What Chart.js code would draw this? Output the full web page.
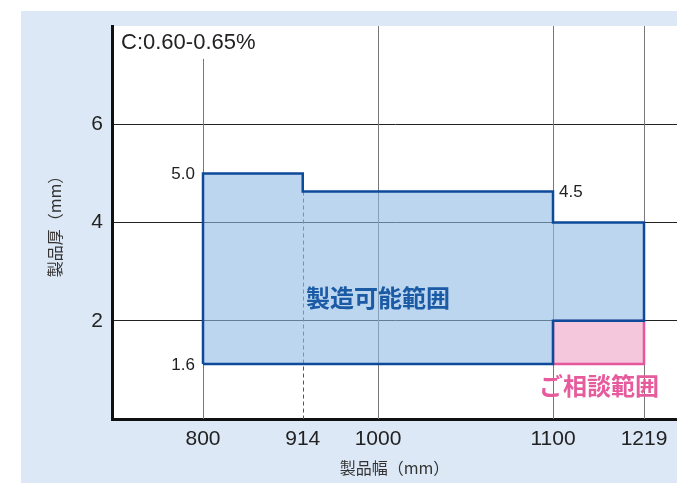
<!DOCTYPE html>
<html lang="ja">
<head>
<meta charset="UTF-8">
<title>製造可能範囲 C:0.60-0.65%</title>
<script src="https://cdn.jsdelivr.net/npm/chart.js"></script>
<style>
  body { margin: 0; background: #fff; }
  #wrap { position: relative; width: 677px; height: 483px; overflow: hidden; }
  #bg { position: absolute; left: 21px; top: 11px; right: 0; bottom: 0; background: #dde8f6; }
  canvas { position: absolute; left: 0; top: 0; }
</style>
</head>
<body>
<div id="wrap">
  <div id="bg"></div>
  <canvas id="chart" width="677" height="483"></canvas>
</div>

<script>
  // 目盛
  const xTicks = [800, 914, 1000, 1100, 1219];
  const yTicks = [2, 4, 6];

  // 製造可能範囲 (外形を一周)
  const makeX = [800, 800, 914, 914, 1100, 1100, 1219, 1219, 1100, 1100, 800];
  const makeY = [1.12, 5.0, 5.0, 4.63, 4.63, 4.0, 4.0, 2.0, 2.0, 1.12, 1.12];

  // ご相談範囲
  const askX = [1100, 1219, 1219, 1100, 1100];
  const askY = [2.0, 2.0, 1.12, 1.12, 2.0];

  // 数値ラベル
  const valText = ["5.0", "1.6", "4.5"];
  const valX = [800, 800, 1100];
  const valY = [5.0, 1.12, 4.63];

  // 範囲名
  const areaText = ["製造可能範囲", "ご相談範囲"];
  const areaX = [1000, 1160];
  const areaY = [2.47, 0.67];

  // 縦グリッドの上端 (y の値)
  const gridTop = [7.33, 4.63, 8, 8, 8];

  // 横軸は区間ごとに縮尺が違う (原図どおり)
  const breakMm = [800, 1000, 1100, 1219];
  const breakPos = [800, 1000, 1200, 1304];
  function xPos(mm) {
    let i = 0;
    while (i < breakMm.length - 2 && mm > breakMm[i + 1]) i++;
    const t = (mm - breakMm[i]) / (breakMm[i + 1] - breakMm[i]);
    return breakPos[i] + t * (breakPos[i + 1] - breakPos[i]);
  }

  const latin = "'Liberation Sans', Arial, sans-serif";
  const cjk = "'Noto Sans CJK JP', sans-serif";

  const plotBg = {
    id: "plotBg",
    beforeDraw(chart) {
      const { ctx, chartArea: a } = chart;
      ctx.save();
      ctx.fillStyle = "#fff";
      ctx.fillRect(a.left, a.top, a.right - a.left, a.bottom - a.top);
      ctx.restore();
    }
  };

  const xGrid = {
    id: "xGrid",
    beforeDatasetsDraw(chart) {
      const { ctx, scales: { x, y } } = chart;
      ctx.save();
      ctx.lineWidth = 1;
      xTicks.forEach((v, i) => {
        const px = Math.round(x.getPixelForValue(xPos(v))) + 0.5;
        ctx.beginPath();
        ctx.strokeStyle = i === 1 ? "#555" : "#777";
        ctx.setLineDash(i === 1 ? [4, 3] : []);
        ctx.moveTo(px, y.getPixelForValue(gridTop[i]));
        ctx.lineTo(px, y.getPixelForValue(0));
        ctx.stroke();
      });
      ctx.restore();
    }
  };

  const texts = {
    id: "texts",
    afterDatasetsDraw(chart) {
      const { ctx, chartArea: a, scales: { x, y } } = chart;
      ctx.save();
      ctx.textBaseline = "middle";

      ctx.fillStyle = "#222";
      ctx.font = "22px " + latin;
      ctx.textAlign = "left";
      ctx.fillText("C:0.60-0.65%", a.left + 9, a.top + 17);

      ctx.font = "17px " + latin;
      valText.forEach((t, i) => {
        const px = x.getPixelForValue(xPos(valX[i]));
        const py = y.getPixelForValue(valY[i]);
        if (valX[i] === xTicks[0]) {
          ctx.textAlign = "right";
          ctx.fillText(t, px - 8, py + 1);
        } else {
          ctx.textAlign = "left";
          ctx.fillText(t, px + 6, py + 1);
        }
      });

      ctx.textAlign = "center";
      ctx.font = "bold 24px " + cjk;
      const colors = ["#1b5aa5", "#e65b9c"];
      areaText.forEach((t, i) => {
        ctx.fillStyle = colors[i];
        ctx.fillText(t, x.getPixelForValue(xPos(areaX[i])), y.getPixelForValue(areaY[i]));
      });
      ctx.restore();
    }
  };

  new Chart(document.getElementById("chart"), {
    type: "line",
    data: {
      datasets: [{
        data: makeX.map((v, i) => ({ x: xPos(v), y: makeY[i] })),
        fill: "shape",
        backgroundColor: "rgba(143,187,228,0.6)",
        borderColor: "#0d4a9a",
        borderWidth: 2.5,
        pointRadius: 0,
        tension: 0
      }, {
        data: askX.map((v, i) => ({ x: xPos(v), y: askY[i] })),
        fill: "shape",
        backgroundColor: "#f5c7dc",
        borderColor: "#e4579b",
        borderWidth: 2.5,
        pointRadius: 0,
        tension: 0
      }]
    },
    options: {
      responsive: false,
      devicePixelRatio: 1,
      animation: false,
      layout: { padding: { top: 26, left: 0, right: 0, bottom: 0 } },
      plugins: { legend: { display: false }, tooltip: { enabled: false } },
      scales: {
        x: {
          type: "linear",
          min: 696,
          max: 1341.7,
          afterBuildTicks: s => { s.ticks = xTicks.map(v => ({ value: xPos(v) })); },
          afterFit: s => { s.height = 64; },
          grid: { display: false },
          border: { display: true, color: "#111", width: 3 },
          ticks: {
            autoSkip: false,
            maxRotation: 0,
            padding: 0,
            color: "#222",
            font: { family: latin, size: 21 },
            callback: (v, i) => xTicks[i]
          },
          title: {
            display: true,
            text: "製品幅（mm）",
            color: "#333",
            font: { family: cjk, size: 16 },
            padding: { top: 0, bottom: 5 }
          }
        },
        y: {
          min: 0,
          max: 8,
          afterBuildTicks: s => { s.ticks = yTicks.map(v => ({ value: v })); },
          afterFit: s => { s.width = 112; },
          grid: { color: "#222", lineWidth: 1, drawTicks: false },
          border: { display: true, color: "#111", width: 3 },
          ticks: {
            padding: 9,
            color: "#222",
            font: { family: latin, size: 21 }
          },
          title: {
            display: true,
            text: "製品厚（mm）",
            color: "#333",
            font: { family: cjk, size: 16 },
            padding: { top: 45, bottom: 0 }
          }
        }
      }
    },
    plugins: [plotBg, xGrid, texts]
  });
</script>
</body>
</html>
